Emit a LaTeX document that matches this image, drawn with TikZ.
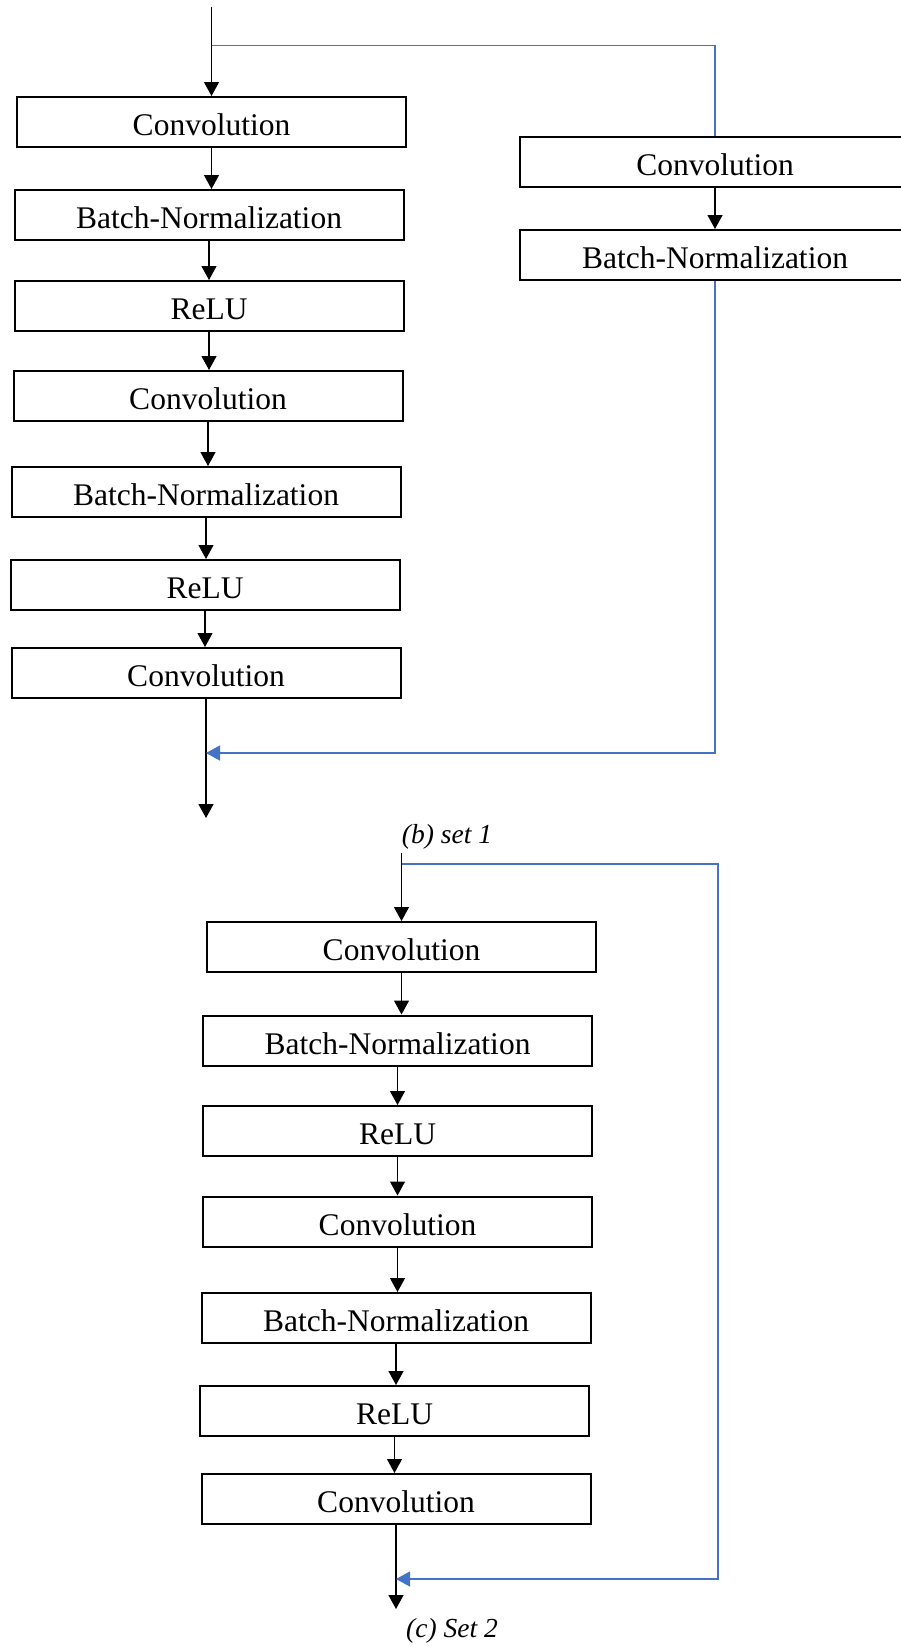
\documentclass[tikz,border=0pt]{standalone}
\usepackage{fontspec}
\setmainfont{Liberation Serif}
\usetikzlibrary{arrows.meta,calc}
\definecolor{skipblue}{HTML}{4472C4}
\begin{document}
\begin{tikzpicture}[x=1pt,y=-1pt,
  layer/.style={draw=black,line width=2pt,minimum width=389pt,minimum height=50pt,inner sep=0pt,
    text height=27pt,text depth=0pt,font=\fontsize{31.5}{36}\selectfont},
  arr/.style={line width=1.2pt,-{Triangle[width=15pt,length=14pt]}},
  skip/.style={draw=skipblue,line width=1.3pt},
  skiparr/.style={skip,-{Triangle[width=15pt,length=14pt]}},
  caption/.style={font=\fontsize{27.5}{32}\selectfont\itshape}]
\useasboundingbox (0,0) rectangle (901,1646);
% ---- set 1 ----
\node[layer] (ac1) at (211.5,122) {Convolution};
\node[layer] (ab1) at (209,215) {Batch-Normalization};
\node[layer] (ar1) at (209,306) {ReLU};
\node[layer] (ac2) at (208,396) {Convolution};
\node[layer] (ab2) at (206,492) {Batch-Normalization};
\node[layer] (ar2) at (205,585) {ReLU};
\node[layer] (ac3) at (206,673) {Convolution};
\node[layer,minimum width=390pt] (acR) at (715,162) {Convolution};
\node[layer,minimum width=390pt] (abR) at (715,255) {Batch-Normalization};
\coordinate (ain) at (211.5,7);
\coordinate (asp) at (211.5,45.7);
\draw[arr] (ain) -- (ac1.north);
\draw[skip] (asp) -| (acR.north);
\draw[arr] (ac1.south) -- (ac1.south |- ab1.north);
\draw[arr] (ab1.south) -- (ab1.south |- ar1.north);
\draw[arr] (ar1.south) -- (ar1.south |- ac2.north);
\draw[arr] (ac2.south) -- (ac2.south |- ab2.north);
\draw[arr] (ab2.south) -- (ab2.south |- ar2.north);
\draw[arr] (ar2.south) -- (ar2.south |- ac3.north);
\draw[arr] (acR.south) -- (abR.north);
\path (ac3.south) ++(0,54) coordinate (am) ++(0,65) coordinate (aout);
\draw[arr] (ac3.south) -- (aout);
\draw[skiparr] (abR.south) |- (am);
\node[caption] (capb) at (447,837) {(b) set 1};
% ---- set 2 ----
\node[layer] (bc1) at (401.5,947) {Convolution};
\node[layer] (bb1) at (397.5,1040.5) {Batch-Normalization};
\node[layer] (br1) at (397.5,1131) {ReLU};
\node[layer] (bc2) at (397.5,1221.5) {Convolution};
\node[layer] (bb2) at (396,1318) {Batch-Normalization};
\node[layer] (br2) at (394.5,1411) {ReLU};
\node[layer] (bc3) at (396,1499) {Convolution};
\coordinate (bin) at (401.5,853);
\coordinate (bsp) at (401.5,864);
\coordinate (bcorner) at (718,864);
\draw[arr] (bin) -- (bc1.north);
\draw[arr] (bc1.south) -- (bc1.south |- bb1.north);
\draw[arr] (bb1.south) -- (bb1.south |- br1.north);
\draw[arr] (br1.south) -- (br1.south |- bc2.north);
\draw[arr] (bc2.south) -- (bc2.south |- bb2.north);
\draw[arr] (bb2.south) -- (bb2.south |- br2.north);
\draw[arr] (br2.south) -- (br2.south |- bc3.north);
\path (bc3.south) ++(0,54) coordinate (bm) ++(0,30) coordinate (bout);
\draw[arr] (bc3.south) -- (bout);
\draw[skiparr] (bsp) -- (bcorner) |- (bm);
\node[caption] (capc) at (452,1631) {(c) Set 2};
\end{tikzpicture}
\end{document}
